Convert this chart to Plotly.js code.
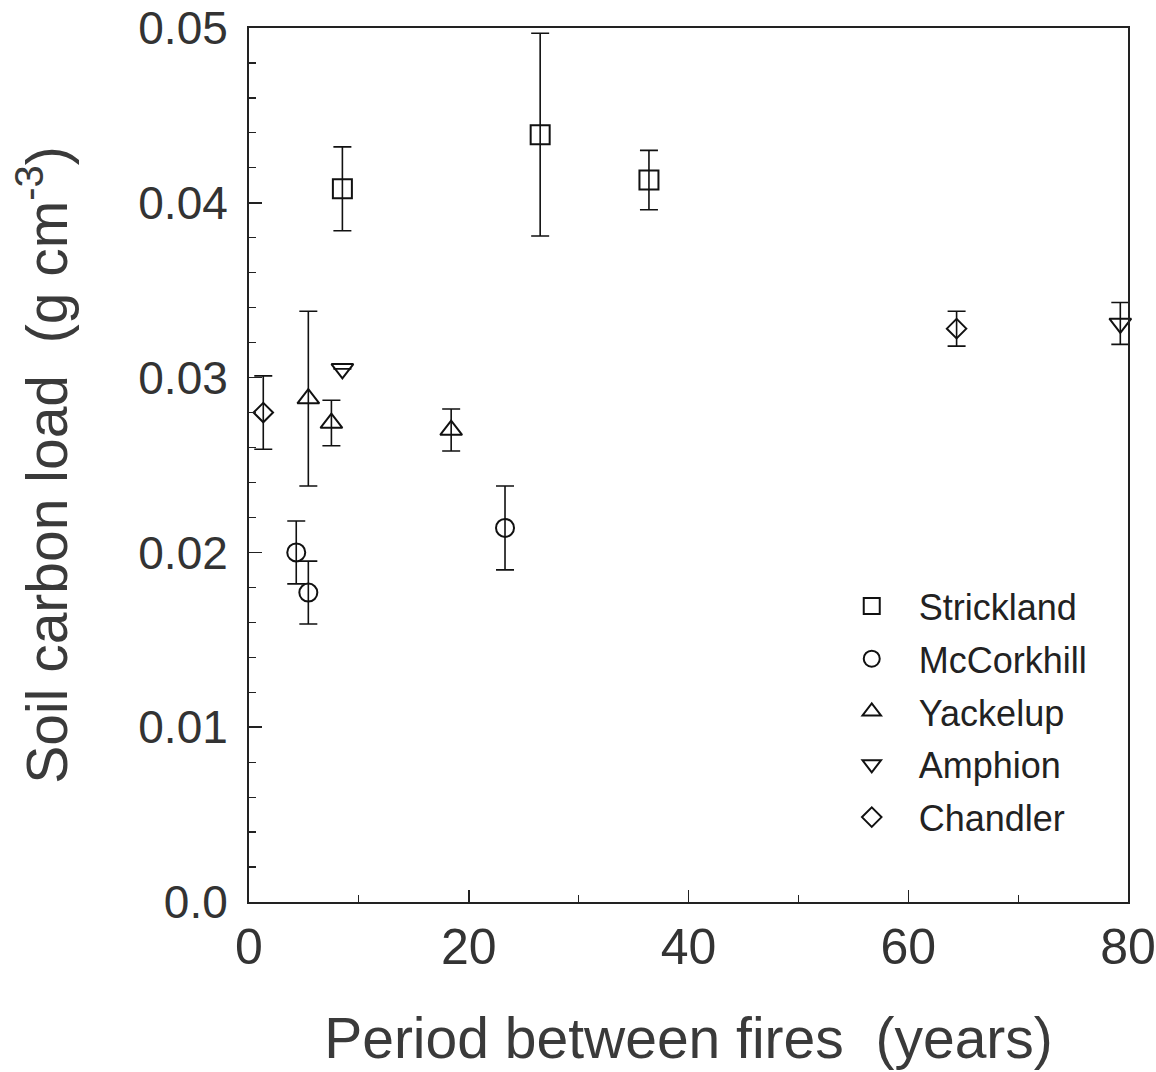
<!DOCTYPE html>
<html>
<head>
<meta charset="utf-8">
<script src="https://cdn.plot.ly/plotly-3.0.1.min.js"></script>
<style>html,body{margin:0;padding:0;background:#fff;}#chart{width:1156px;height:1072px;}</style>
</head>
<body>
<div id="chart"></div>
<script>
// Data
var stricklandX = [8.5, 26.5, 36.4];
var stricklandY = [0.0408, 0.0439, 0.0413];
var stricklandErr = [0.0024, 0.0058, 0.0017];

var mccorkhillX = [4.3, 5.4, 23.3];
var mccorkhillY = [0.0200, 0.0177, 0.0214];
var mccorkhillErr = [0.0018, 0.0018, 0.0024];

var yackelupX = [5.4, 7.5, 18.4];
var yackelupY = [0.0288, 0.0274, 0.0270];
var yackelupErr = [0.0050, 0.0013, 0.0012];

var amphionX = [8.5, 79.3];
var amphionY = [0.0305, 0.0331];
var amphionErr = [0, 0.0012];

var chandlerX = [1.3, 64.4];
var chandlerY = [0.0280, 0.0328];
var chandlerErr = [0.0021, 0.0010];

var yTickVals = [0, 0.01, 0.02, 0.03, 0.04, 0.05];
var yTickText = ["0.0", "0.01", "0.02", "0.03", "0.04", "0.05"];
var xTickVals = [0, 20, 40, 60, 80];

function mk(name, x, y, e, sym, size) {
  return {
    type: 'scatter', mode: 'markers', name: name, x: x, y: y,
    legendgroup: name,
    marker: {symbol: sym, size: size, color: '#111', line: {width: 2}},
    error_y: {type: 'data', array: e, visible: true, color: '#111', thickness: 1.6, width: 9},
    cliponaxis: false
  };
}

var traces = [
  mk('Strickland', stricklandX, stricklandY, stricklandErr, 'square-open', 19),
  mk('McCorkhill', mccorkhillX, mccorkhillY, mccorkhillErr, 'circle-open', 18),
  mk('Yackelup', yackelupX, yackelupY, yackelupErr, 'triangle-up-open', 19),
  mk('Amphion', amphionX, amphionY, amphionErr, 'triangle-down-open', 19),
  mk('Chandler', chandlerX, chandlerY, chandlerErr, 'diamond-open', 15)
];

var layout = {
  width: 1156, height: 1072,
  margin: {l: 249, r: 28, t: 28, b: 170},
  paper_bgcolor: '#fff', plot_bgcolor: '#fff',
  font: {family: 'Liberation Sans, Arial, sans-serif', color: '#333'},
  showlegend: true,
  legend: {
    x: 0.655, y: 0.373, xanchor: 'left', yanchor: 'top',
    font: {size: 36, color: '#222'},
    traceorder: 'grouped', tracegroupgap: 3,
    bgcolor: 'rgba(0,0,0,0)', itemsizing: 'trace', itemwidth: 84
  },
  xaxis: {
    range: [0, 80], tickvals: xTickVals, ticks: 'inside', ticklen: 12, tickwidth: 1.5, tickcolor: '#222',
    minor: {dtick: 10, tick0: 0, ticks: 'inside', ticklen: 7, tickwidth: 1.2, tickcolor: '#222'},
    showline: true, linecolor: '#222', linewidth: 2, mirror: true,
    showgrid: false, zeroline: false,
    tickfont: {size: 50, color: '#333'}, ticklabelstandoff: 0,
    title: {text: 'Period between fires  (years)', font: {size: 57, color: '#3a3a3a'}, standoff: 44}
  },
  yaxis: {
    range: [0, 0.05], tickvals: yTickVals, ticktext: yTickText, ticks: 'inside', ticklen: 13, tickwidth: 1.5, tickcolor: '#222',
    minor: {dtick: 0.002, tick0: 0, ticks: 'inside', ticklen: 7, tickwidth: 1.2, tickcolor: '#222'},
    showline: true, linecolor: '#222', linewidth: 2, mirror: true,
    showgrid: false, zeroline: false,
    tickfont: {size: 46, color: '#333'}, ticklabelstandoff: 10,
    title: {text: 'Soil carbon load  (g cm<sup>-3</sup>)', font: {size: 57, color: '#3a3a3a'}, standoff: 52}
  }
};

Plotly.newPlot('chart', traces, layout, {displayModeBar: false, staticPlot: true});
</script>
</body>
</html>
